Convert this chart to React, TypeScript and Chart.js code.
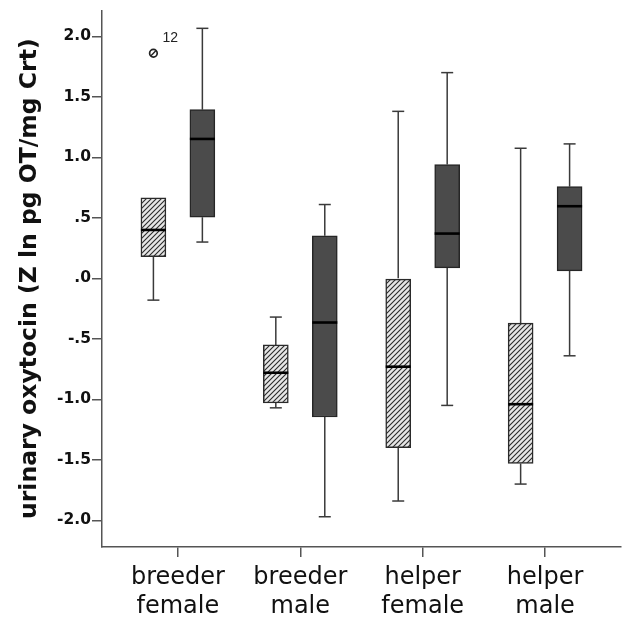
import React, { useEffect, useRef } from "react";
import { Chart, registerables } from "chart.js";
Chart.register(...registerables);

const categories = [
  ["breeder", "female"],
  ["breeder", "male"],
  ["helper", "female"],
  ["helper", "male"],
];
const yTickValues = [-2, -1.5, -1, -0.5, 0, 0.5, 1, 1.5, 2];

// hatched boxes (first group)
const hatchedLow = [-0.18, -1.07, -1.84, -1.7];
const hatchedQ1 = [0.18, -1.03, -1.4, -1.53];
const hatchedMedian = [0.4, -0.78, -0.73, -1.04];
const hatchedQ3 = [0.665, -0.55, 0.0, -0.37];
const hatchedHigh = [0.665, -0.32, 1.38, 1.075];

// dark boxes (second group)
const darkLow = [0.3, -1.97, -1.05, -0.64];
const darkQ1 = [0.505, -1.146, 0.087, 0.062];
const darkMedian = [1.152, -0.365, 0.37, 0.596];
const darkQ3 = [1.394, 0.351, 0.94, 0.758];
const darkHigh = [2.066, 0.61, 1.7, 1.111];

// outliers
const outlierCategory = [0];
const outlierGroup = [0];
const outlierValue = [1.86];
const outlierLabel = ["12"];

const groupOffsets = [-0.2, 0.2];

const groups = [
  { low: hatchedLow, q1: hatchedQ1, med: hatchedMedian, q3: hatchedQ3, high: hatchedHigh },
  { low: darkLow, q1: darkQ1, med: darkMedian, q3: darkQ3, high: darkHigh },
];

const BOX_W = 25;
const CAP_W = 12;

function makeHatch(): CanvasPattern | string {
  const c = document.createElement("canvas");
  c.width = 5;
  c.height = 5;
  const g = c.getContext("2d");
  if (!g) return "#ddd";
  g.fillStyle = "#e6e6e6";
  g.fillRect(0, 0, 5, 5);
  g.strokeStyle = "#2a2a2a";
  g.lineWidth = 1.1;
  g.beginPath();
  g.moveTo(-1, 6);
  g.lineTo(6, -1);
  g.moveTo(-1, 1);
  g.lineTo(1, -1);
  g.moveTo(4, 6);
  g.lineTo(6, 4);
  g.stroke();
  const p = g.createPattern(c, "repeat");
  return p || "#ddd";
}

const boxPlugin = {
  id: "boxParts",
  beforeDatasetsDraw(chart: any) {
    const { ctx, scales } = chart;
    const xs = scales.x;
    const ys = scales.y;
    ctx.save();
    ctx.strokeStyle = "#3a3a3a";
    ctx.lineWidth = 1.5;
    groups.forEach((g, gi) => {
      g.low.forEach((_, i) => {
        const x = xs.getPixelForValue(i + groupOffsets[gi]);
        const segs = [
          [g.low[i], g.q1[i]],
          [g.q3[i], g.high[i]],
        ];
        segs.forEach(([a, b]) => {
          if (Math.abs(a - b) < 1e-9) return;
          const ya = ys.getPixelForValue(a);
          const yb = ys.getPixelForValue(b);
          ctx.beginPath();
          ctx.moveTo(x, ya);
          ctx.lineTo(x, yb);
          ctx.stroke();
        });
        [g.low[i], g.high[i]].forEach((v, k) => {
          const edge = k === 0 ? g.q1[i] : g.q3[i];
          if (Math.abs(v - edge) < 1e-9) return;
          const y = ys.getPixelForValue(v);
          ctx.beginPath();
          ctx.moveTo(x - CAP_W / 2, y);
          ctx.lineTo(x + CAP_W / 2, y);
          ctx.stroke();
        });
      });
    });
    ctx.restore();
  },
  afterDatasetsDraw(chart: any) {
    const { ctx, scales } = chart;
    const xs = scales.x;
    const ys = scales.y;
    ctx.save();
    ctx.strokeStyle = "#000";
    ctx.lineWidth = 2.6;
    groups.forEach((g, gi) => {
      g.med.forEach((m, i) => {
        const x = xs.getPixelForValue(i + groupOffsets[gi]);
        const y = ys.getPixelForValue(m);
        ctx.beginPath();
        ctx.moveTo(x - BOX_W / 2, y);
        ctx.lineTo(x + BOX_W / 2, y);
        ctx.stroke();
      });
    });
    outlierValue.forEach((v, k) => {
      const x = xs.getPixelForValue(outlierCategory[k] + groupOffsets[outlierGroup[k]]);
      const y = ys.getPixelForValue(v);
      ctx.strokeStyle = "#222";
      ctx.lineWidth = 1.7;
      ctx.beginPath();
      ctx.arc(x, y, 3.8, 0, Math.PI * 2);
      ctx.stroke();
      ctx.lineWidth = 1.4;
      ctx.beginPath();
      ctx.moveTo(x - 2.4, y + 2.4);
      ctx.lineTo(x + 2.4, y - 2.4);
      ctx.stroke();
      ctx.fillStyle = "#222";
      ctx.font = "14px 'Liberation Sans', Arial, sans-serif";
      ctx.textAlign = "left";
      ctx.textBaseline = "middle";
      ctx.fillText(outlierLabel[k], x + 9, y - 15);
    });
    ctx.restore();
  },
};

export default function App() {
  const ref = useRef<HTMLCanvasElement>(null);
  useEffect(() => {
    document.body.style.margin = "0";
    const canvas = ref.current;
    if (!canvas) return;
    const hatch = makeHatch();
    const chart = new Chart(canvas, {
      type: "bar",
      data: {
        datasets: [
          {
            label: "hatched",
            data: hatchedQ1.map((q1, i) => ({ x: i + groupOffsets[0], y: [q1, hatchedQ3[i]] })) as any,
            backgroundColor: hatch as any,
            borderColor: "#2a2a2a",
            borderWidth: 1.5,
            borderSkipped: false,
            barThickness: BOX_W,
            grouped: false,
          },
          {
            label: "dark",
            data: darkQ1.map((q1, i) => ({ x: i + groupOffsets[1], y: [q1, darkQ3[i]] })) as any,
            backgroundColor: "#4b4b4b",
            borderColor: "#262626",
            borderWidth: 1.5,
            borderSkipped: false,
            barThickness: BOX_W,
            grouped: false,
          },
        ],
      },
      options: {
        animation: false,
        responsive: false,
        devicePixelRatio: 1,
        layout: { padding: { top: 10, right: 4, bottom: 0, left: 0 } },
        plugins: { legend: { display: false }, tooltip: { enabled: false } },
        scales: {
          x: {
            type: "linear",
            offset: false,
            min: -0.62,
            max: 3.62,
            afterBuildTicks: (s: any) => {
              s.ticks = categories.map((_, i) => ({ value: i }));
            },
            afterFit: (s: any) => {
              s.height = 72;
            },
            grid: {
              offset: false,
              drawOnChartArea: false,
              drawTicks: true,
              tickLength: 10,
              color: "#555",
              lineWidth: 1.5,
            },
            border: { display: true, color: "#555", width: 1.5 },
            ticks: {
              autoSkip: false,
              maxRotation: 0,
              padding: 7,
              color: "#111",
              font: { family: "'DejaVu Sans', sans-serif", size: 24, lineHeight: 1.18 },
              callback: (v: any) => {
                const i = Math.round(Number(v));
                return categories[i] ?? "";
              },
            },
          },
          y: {
            type: "linear",
            min: -2.22,
            max: 2.215,
            afterBuildTicks: (s: any) => {
              s.ticks = yTickValues.map((v) => ({ value: v }));
            },
            afterFit: (s: any) => {
              s.width = 102;
            },
            grid: {
              drawOnChartArea: false,
              drawTicks: true,
              tickLength: 10,
              color: "#555",
              lineWidth: 1.5,
            },
            border: { display: true, color: "#555", width: 1.5 },
            ticks: {
              padding: 1,
              color: "#111",
              font: { family: "'DejaVu Sans', sans-serif", size: 15.5, weight: "bold" },
              callback: (v: any) => {
                const s = Number(v).toFixed(1);
                return s.replace(/^(-?)0\./, "$1.");
              },
            },
            title: {
              display: true,
              text: "urinary oxytocin (Z ln pg OT/mg Crt)",
              color: "#111",
              padding: { top: 17, bottom: 0 },
              font: { family: "'DejaVu Sans', sans-serif", size: 23.5, weight: "bold", lineHeight: 1.1 },
            },
          },
        },
      },
      plugins: [boxPlugin],
    });
    return () => chart.destroy();
  }, []);
  return (
    <div style={{ width: 625, height: 619, background: "#fff" }}>
      <canvas ref={ref} width={625} height={619} style={{ display: "block" }} />
    </div>
  );
}
